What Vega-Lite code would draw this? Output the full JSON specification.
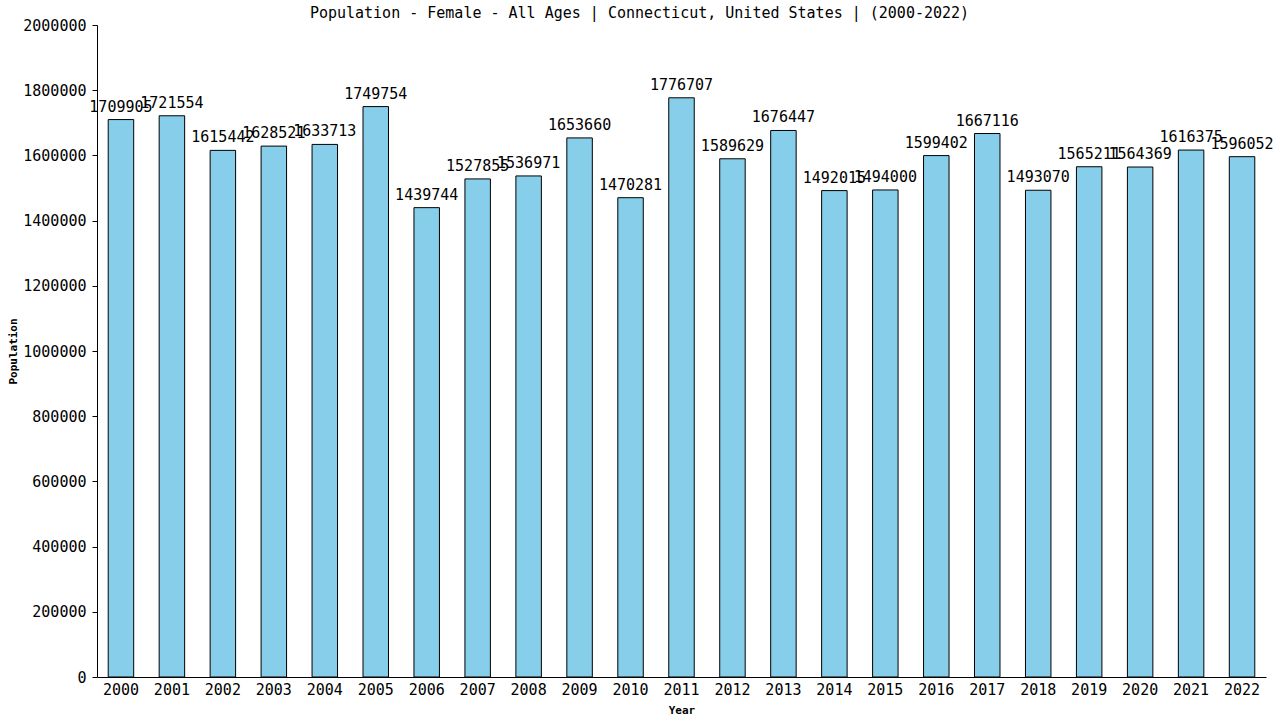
{
  "$schema": "https://vega.github.io/schema/vega-lite/v6.json",
  "width": 1169,
  "height": 652,
  "autosize": {"type": "none"},
  "padding": {"left": 97, "top": 25, "right": 14, "bottom": 43},
  "background": "white",
  "title": {
    "text": "Population - Female - All Ages | Connecticut, United States |  (2000-2022)",
    "font": "DejaVu Sans Mono",
    "fontSize": 15,
    "fontWeight": "normal",
    "anchor": "middle",
    "frame": "group",
    "dx": -42,
    "offset": -3,
    "color": "black"
  },
  "data": {
    "values": [
      {"year": "2000", "pop": 1709905},
      {"year": "2001", "pop": 1721554},
      {"year": "2002", "pop": 1615442},
      {"year": "2003", "pop": 1628521},
      {"year": "2004", "pop": 1633713},
      {"year": "2005", "pop": 1749754},
      {"year": "2006", "pop": 1439744},
      {"year": "2007", "pop": 1527855},
      {"year": "2008", "pop": 1536971},
      {"year": "2009", "pop": 1653660},
      {"year": "2010", "pop": 1470281},
      {"year": "2011", "pop": 1776707},
      {"year": "2012", "pop": 1589629},
      {"year": "2013", "pop": 1676447},
      {"year": "2014", "pop": 1492015},
      {"year": "2015", "pop": 1494000},
      {"year": "2016", "pop": 1599402},
      {"year": "2017", "pop": 1667116},
      {"year": "2018", "pop": 1493070},
      {"year": "2019", "pop": 1565211},
      {"year": "2020", "pop": 1564369},
      {"year": "2021", "pop": 1616375},
      {"year": "2022", "pop": 1596052}
    ]
  },
  "encoding": {
    "x": {
      "field": "year",
      "type": "ordinal",
      "title": "Year",
      "scale": {"paddingInner": 0.5, "paddingOuter": 0.22},
      "axis": {
        "labelAngle": 0,
        "labelFont": "DejaVu Sans Mono",
        "labelFontSize": 15,
        "labelColor": "black",
        "labelPadding": 5,
        "ticks": false,
        "domainColor": "black",
        "titleFont": "DejaVu Sans Mono",
        "titleFontSize": 11,
        "titleColor": "black",
        "titlePadding": 7
      }
    },
    "y": {
      "field": "pop",
      "type": "quantitative",
      "title": "Population",
      "scale": {"domain": [0, 2000000], "nice": false},
      "axis": {
        "values": [0, 200000, 400000, 600000, 800000, 1000000, 1200000, 1400000, 1600000, 1800000, 2000000],
        "format": "d",
        "grid": false,
        "labelFont": "DejaVu Sans Mono",
        "labelFontSize": 15,
        "labelColor": "black",
        "labelPadding": 6,
        "tickColor": "black",
        "tickSize": 5,
        "domainColor": "black",
        "titleFont": "DejaVu Sans Mono",
        "titleFontSize": 11,
        "titleColor": "black",
        "titlePadding": 4
      }
    }
  },
  "layer": [
    {
      "mark": {"type": "bar", "fill": "#87CEEB", "stroke": "black", "strokeWidth": 1}
    },
    {
      "mark": {
        "type": "text",
        "baseline": "bottom",
        "align": "center",
        "dy": -5,
        "font": "DejaVu Sans Mono",
        "fontSize": 15,
        "color": "black"
      },
      "encoding": {"text": {"field": "pop", "type": "quantitative", "format": "d"}}
    }
  ],
  "config": {"view": {"stroke": null}}
}
